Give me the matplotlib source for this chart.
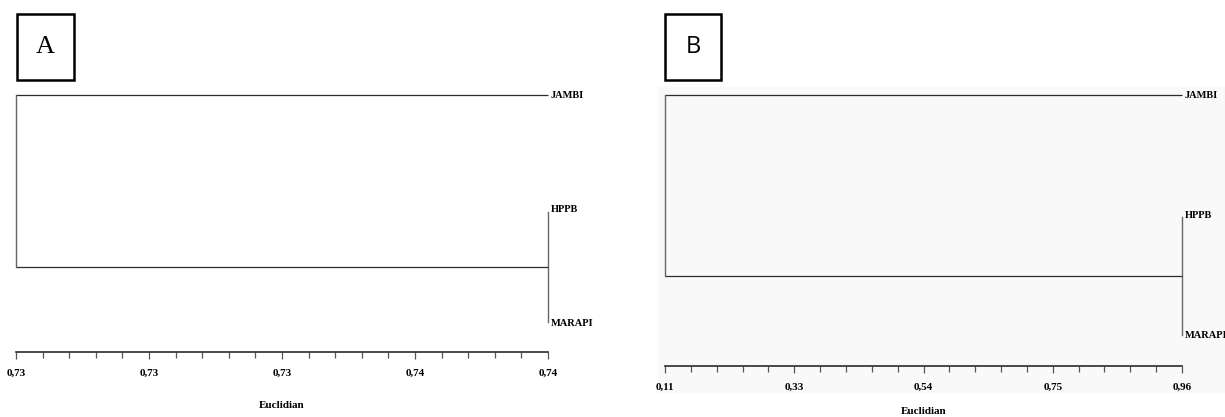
import matplotlib
matplotlib.use("Agg")
import matplotlib.pyplot as plt
from matplotlib.patches import Rectangle
from matplotlib.ticker import FixedLocator

# ---------------- data ----------------
leaves = ["JAMBI", "HPPB", "MARAPI"]

# panel A : distance scale, merge heights, tick labels
a_scale = [0.7262, 0.7382]
a_merge_pair = 0.7382      # HPPB + MARAPI
a_merge_root = 0.7262      # (HPPB, MARAPI) + JAMBI
a_ticks = [0.7262, 0.7292, 0.7322, 0.7352, 0.7382]
a_ticklabels = ["0,73", "0,73", "0,73", "0,74", "0,74"]

# panel B
b_scale = [0.113, 0.963]
b_merge_pair = 0.963
b_merge_root = 0.113
b_ticks = [0.113, 0.3255, 0.538, 0.7505, 0.963]
b_ticklabels = ["0,11", "0,33", "0,54", "0,75", "0,96"]

axis_title = "Euclidian"
panel_letters = ["A", "B"]

# ---------------- layout ----------------
W, H = 1225, 417
fig = plt.figure(figsize=(W / 100, H / 100), dpi=100)
fig.patch.set_facecolor("white")

def fx(px):
    return px / W

def fy(py):
    return 1 - py / H

line_col = "#2b2b2b"
serif = ["Liberation Serif", "DejaVu Serif"]

# gray background of panel B
fig.patches.append(Rectangle((fx(658), fy(393)), fx(1225) - fx(658), fy(87) - fy(393),
                             transform=fig.transFigure, facecolor="#f9f9f9",
                             edgecolor="none", zorder=-10))

def panel(left, right, top, bottom, scale, ticks, ticklabels, merge_pair, merge_root,
          leaf_y, title_y):
    ax = fig.add_axes([fx(left), fy(bottom), fx(right) - fx(left), fy(top) - fy(bottom)])
    ax.set_facecolor("none")
    ax.set_zorder(1)
    ax.set_xlim(scale[0], scale[1])
    ax.set_ylim(bottom, top)
    for s in ["top", "left", "right"]:
        ax.spines[s].set_visible(False)
    ax.spines["bottom"].set_color(line_col)
    ax.spines["bottom"].set_linewidth(1.2)
    ax.set_yticks([])
    ax.xaxis.set_major_locator(FixedLocator(ticks))
    minor = []
    for t0, t1 in zip(ticks[:-1], ticks[1:]):
        minor += [t0 + (t1 - t0) * k / 5 for k in range(1, 5)]
    ax.xaxis.set_minor_locator(FixedLocator(minor))
    ax.set_xticklabels(ticklabels, fontfamily=serif, fontweight="bold", fontsize=8)
    ax.tick_params(axis="x", which="both", direction="out", length=4, width=0.9,
                   color="#555555", pad=7)
    ax.tick_params(axis="x", which="major", length=5)

    y_j, y_h, y_m = leaf_y
    y_pair = (y_h + y_m) / 2
    leaf_x = scale[1]
    kw = dict(color=line_col, lw=0.9, clip_on=False, solid_capstyle="butt")
    # HPPB + MARAPI
    ax.plot([leaf_x, merge_pair], [y_h, y_h], **kw)
    ax.plot([leaf_x, merge_pair], [y_m, y_m], **kw)
    ax.plot([merge_pair, merge_pair], [y_h, y_m], color="#666666", lw=1.0, clip_on=False)
    # root
    ax.plot([merge_root, merge_pair], [y_pair, y_pair], **kw)
    ax.plot([merge_root, leaf_x], [y_j, y_j], **kw)
    ax.plot([merge_root, merge_root], [y_j, y_pair], color="#666666", lw=1.0, clip_on=False)

    off = (scale[1] - scale[0]) * 3 / (right - left)
    for name, y, dy in zip(leaves, leaf_y, [0, -2, 1]):
        ax.text(leaf_x + off, y + dy, name, fontfamily=serif, fontweight="bold",
                fontsize=7.5, va="center", ha="left", clip_on=False)
    fig.text(fx((left + right) / 2), fy(title_y), axis_title, fontfamily=serif,
             fontweight="bold", fontsize=8, ha="center", va="center")
    return ax

panel(16, 548, 95, 352, a_scale, a_ticks, a_ticklabels, a_merge_pair, a_merge_root,
      [95, 212, 322], 406)
panel(665, 1182, 95, 366, b_scale, b_ticks, b_ticklabels, b_merge_pair, b_merge_root,
      [95, 217, 335], 411)

# panel letter boxes
def letter_box(x0, x1, y0, y1, letter, family, size):
    fig.patches.append(Rectangle((fx(x0), fy(y1)), fx(x1) - fx(x0), fy(y0) - fy(y1),
                                 transform=fig.transFigure, facecolor="white",
                                 edgecolor="black", linewidth=1.8, zorder=2))
    fig.text(fx((x0 + x1) / 2), fy((y0 + y1) / 2), letter, fontfamily=family,
             fontsize=size, ha="center", va="center", zorder=3)

letter_box(17, 74, 14, 80, panel_letters[0], serif, 19)
letter_box(665, 721, 14, 80, panel_letters[1], ["Open Sans", "DejaVu Sans"], 17)

fig.savefig("out.png", dpi=100)
